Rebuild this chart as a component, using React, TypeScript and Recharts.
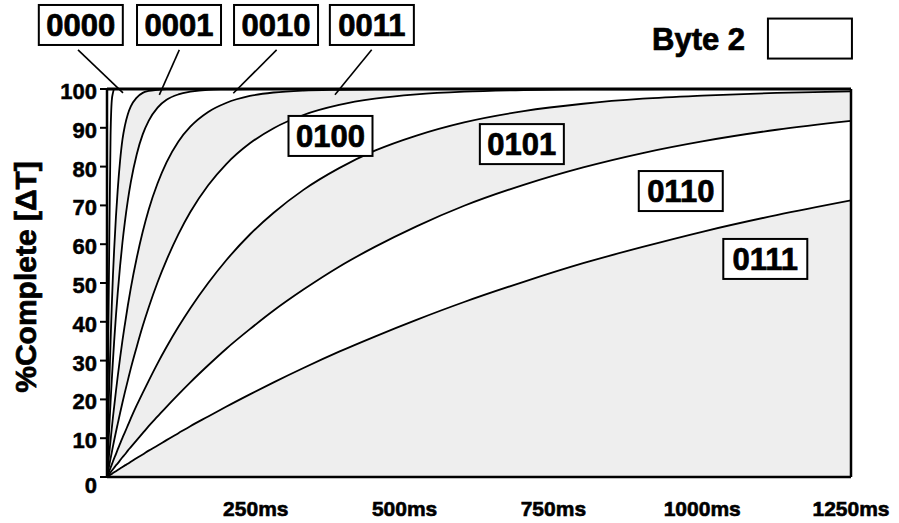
import {
  AreaChart,
  Area,
  XAxis,
  YAxis,
  ReferenceLine,
  ReferenceDot,
} from "recharts";

// sample times (ms), denser near zero where the fast curves rise
const times = [
  0, 1, 2, 3, 4, 6, 8, 10, 12, 15, 18, 22, 26, 30, 35, 40, 50, 60, 70, 85, 100,
  120, 140, 170, 200, 240, 280, 330, 390, 450, 520, 600, 700, 800, 900, 1000,
  1125, 1250,
];

// % complete
const s0000 = [
  0, 16, 32, 48, 63, 88, 97, 99, 100, 100, 100, 100, 100, 100, 100, 100, 100,
  100, 100, 100, 100, 100, 100, 100, 100, 100, 100, 100, 100, 100, 100, 100,
  100, 100, 100, 100, 100, 100,
];
const s0001 = [
  0, 7, 13.5, 19.5, 25, 35, 44, 52, 58.5, 67, 74, 81.5, 87, 90.5, 93.5, 95.5,
  97.8, 99, 99.5, 99.8, 100, 100, 100, 100, 100, 100, 100, 100, 100, 100, 100,
  100, 100, 100, 100, 100, 100, 100,
];
const s0010 = [
  0, 3.5, 6.9, 10.2, 13.3, 19.3, 24.9, 30, 34.9, 41.5, 47.4, 54.4, 60.5, 65.7,
  71.3, 76, 83.2, 88.3, 91.8, 95.2, 97.2, 98.6, 99.3, 99.8, 99.9, 100, 100, 100,
  100, 100, 100, 100, 100, 100, 100, 100, 100, 100,
];
const s0011 = [
  0, 1.7, 3.3, 4.9, 6.5, 9.5, 12.5, 15.4, 18.1, 22.1, 25.9, 30.7, 35.2, 39.3,
  44.2, 48.7, 56.5, 63.2, 68.9, 75.7, 81.1, 86.5, 90.3, 94.1, 96.4, 98.2, 99.1,
  99.6, 99.8, 99.9, 100, 100, 100, 100, 100, 100, 100, 100,
];
const s0100 = [
  0, 0.8, 1.6, 2.4, 3.2, 4.8, 6.3, 7.9, 9.4, 11.6, 13.7, 16.5, 19.2, 21.8, 24.9,
  28, 33.6, 38.9, 43.7, 50.2, 55.9, 62.6, 68.3, 75.2, 80.6, 86, 89.9, 93.3,
  95.9, 97.5, 98.6, 99.3, 99.7, 99.9, 99.9, 100, 100, 100,
];
const s0101 = [
  0, 0.4, 0.8, 1.2, 1.6, 2.4, 3.2, 4, 4.8, 5.9, 7.1, 8.6, 10.1, 11.5, 13.3,
  15.1, 18.5, 21.7, 24.8, 29.3, 33.5, 38.7, 43.5, 50, 55.8, 62.5, 68.1, 74,
  79.6, 84.1, 88, 91.4, 94.3, 96.2, 97.5, 98.3, 99, 99.4,
];
const s0110 = [
  0, 0.2, 0.4, 0.6, 0.8, 1.2, 1.6, 2, 2.4, 3, 3.5, 4.3, 5.1, 5.8, 6.8, 7.7, 9.5,
  11.3, 13.1, 15.6, 18.1, 21.3, 24.4, 28.8, 33, 38.1, 42.9, 48.3, 54.2, 59.3,
  64.6, 69.9, 75.3, 79.8, 83.5, 86.5, 89.5, 91.8,
];
const s0111 = [
  0, 0.1, 0.2, 0.3, 0.4, 0.6, 0.8, 1, 1.2, 1.5, 1.8, 2.2, 2.6, 3, 3.4, 3.9, 4.9,
  5.8, 6.8, 8.1, 9.5, 11.3, 13.1, 15.6, 18.1, 21.3, 24.4, 28.1, 32.3, 36.2,
  40.5, 45.1, 50.3, 55.1, 59.3, 63.2, 67.5, 71.3,
];

const seriesNames = ["0000", "0001", "0010", "0011", "0100", "0101", "0110", "0111"];
const seriesValues = [s0000, s0001, s0010, s0011, s0100, s0101, s0110, s0111];

const xTicks = [250, 500, 750, 1000, 1250];
const yTicks = [0, 10, 20, 30, 40, 50, 60, 70, 80, 90, 100];

// band colours: each area covers the ones before it
const bandFills = ["#ffffff", "#eeeeee", "#ffffff", "#eeeeee", "#ffffff", "#eeeeee", "#ffffff", "#eeeeee"];

// label boxes, in data coords
const topLabels = [
  { text: "0000", t: -44, v: 116.5, from: { x: -48.7, y: 110.1 }, to: { x: 26.9, y: 99 } },
  { text: "0001", t: 121, v: 116.5, from: { x: 121.5, y: 110.1 }, to: { x: 87.9, y: 98.5 } },
  { text: "0010", t: 284, v: 116.5, from: { x: 285, y: 110.1 }, to: { x: 212.2, y: 98.9 } },
  { text: "0011", t: 445, v: 116.5, from: { x: 444.7, y: 110.1 }, to: { x: 383, y: 98.5 } },
];
const innerLabels = [
  { text: "0100", t: 375.5, v: 87.9 },
  { text: "0101", t: 697, v: 85.8 },
  { text: "0110", t: 964, v: 73.7 },
  { text: "0111", t: 1106, v: 56.2 },
];

const data = times.map((t, i) => {
  const row: Record<string, number> = { t };
  seriesNames.forEach((n, k) => {
    row[n] = seriesValues[k][i];
  });
  return row;
});

const FONT = "'Liberation Sans', Arial, sans-serif";
// heavy look of the original lettering
const heavy = { stroke: "#000", strokeWidth: 0.7, paintOrder: "stroke" as const };

const boxShape = (text: string) => (props: any) => {
  const { cx, cy } = props;
  return (
    <g>
      <rect x={cx - 42} y={cy - 20} width={84} height={40} fill="#fff" stroke="#000" strokeWidth={2} />
      {text ? (
        <text
          x={cx}
          y={cy}
          dy="0.36em"
          textAnchor="middle"
          fontFamily={FONT}
          fontWeight="bold"
          fontSize={31}
          fill="#000"
          {...heavy}
        >
          {text}
        </text>
      ) : null}
    </g>
  );
};

const byteText = (props: any) => {
  const { cx, cy } = props;
  return (
    <text x={cx} y={cy} dy="0.36em" textAnchor="end" fontFamily={FONT} fontWeight="bold" fontSize={31} fill="#000" {...heavy}>
      Byte 2
    </text>
  );
};

const YTick = (props: any) => {
  const { x, y, payload } = props;
  return (
    <text
      x={x}
      y={y + (payload.value === 0 ? 8 : 2)}
      dy="0.36em"
      textAnchor="end"
      fontFamily={FONT}
      fontWeight="bold"
      fontSize={22}
      fill="#000"
      {...heavy}
      strokeWidth={0.5}
    >
      {payload.value}
    </text>
  );
};

const XTick = (props: any) => {
  const { x, y, payload } = props;
  return (
    <text
      x={x}
      y={y}
      dy="0.71em"
      textAnchor="middle"
      fontFamily={FONT}
      fontWeight="bold"
      fontSize={21}
      fill="#000"
      {...heavy}
      strokeWidth={0.6}
    >
      {payload.value}ms
    </text>
  );
};

const YLabel = () => (
  <text
    x={36}
    y={277}
    transform="rotate(-90, 36, 277)"
    textAnchor="middle"
    fontFamily={FONT}
    fontWeight="bold"
    fontSize={30}
    fill="#000"
    {...heavy}
  >
    %Complete [ΔT]
  </text>
);

export default function App() {
  return (
    <div style={{ position: "absolute", left: 0, top: 0, width: 899, height: 523, background: "#fff" }}>
      <AreaChart
        width={899}
        height={523}
        data={data}
        margin={{ top: 89, right: 48, bottom: 6, left: 47 }}
      >
        <XAxis
          dataKey="t"
          type="number"
          domain={[0, 1250]}
          ticks={xTicks}
          interval={0}
          allowDataOverflow
          height={40}
          tickLine={false}
          tickMargin={18}
          axisLine={{ stroke: "#000", strokeWidth: 2.5 }}
          tick={<XTick />}
        />
        <YAxis
          type="number"
          domain={[0, 100]}
          ticks={yTicks}
          interval={0}
          allowDataOverflow
          width={60}
          tickSize={7}
          tickMargin={3}
          tickLine={{ stroke: "#000", strokeWidth: 2 }}
          axisLine={{ stroke: "#000", strokeWidth: 2.5 }}
          tick={<YTick />}
          label={{ content: YLabel }}
        />
        {seriesNames.map((n, k) => (
          <Area
            key={n}
            type="monotone"
            dataKey={n}
            stroke="#000"
            strokeWidth={1.8}
            fill={bandFills[k]}
            fillOpacity={1}
            dot={false}
            activeDot={false}
            isAnimationActive={false}
          />
        ))}
        <ReferenceLine y={100} stroke="#000" strokeWidth={3} />
        <ReferenceLine x={1250} stroke="#000" strokeWidth={2.5} />
        {topLabels.map((l) => (
          <ReferenceLine
            key={"p" + l.text}
            segment={[l.from, l.to]}
            stroke="#000"
            strokeWidth={1.6}
            ifOverflow="visible"
          />
        ))}
        {topLabels.map((l) => (
          <ReferenceDot key={l.text} x={l.t} y={l.v} r={0} ifOverflow="visible" shape={boxShape(l.text)} />
        ))}
        {innerLabels.map((l) => (
          <ReferenceDot key={l.text} x={l.t} y={l.v} r={0} ifOverflow="visible" shape={boxShape(l.text)} />
        ))}
        <ReferenceDot x={1072} y={113} r={0} ifOverflow="visible" shape={byteText} />
        <ReferenceDot x={1181} y={113} r={0} ifOverflow="visible" shape={boxShape("")} />
      </AreaChart>
    </div>
  );
}
